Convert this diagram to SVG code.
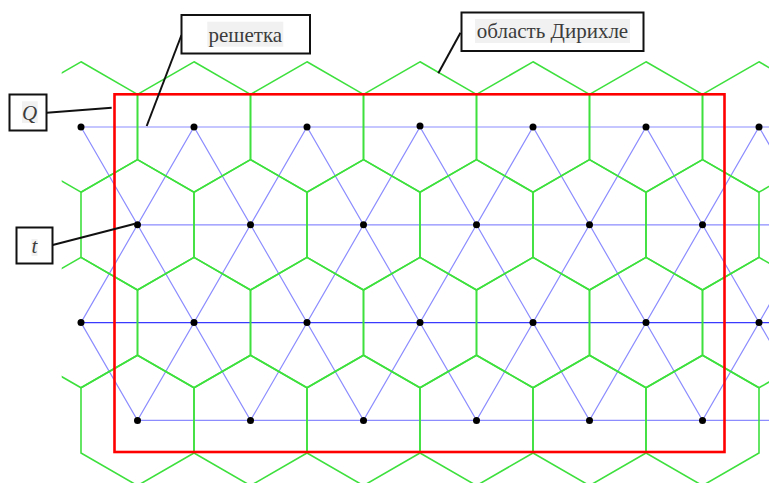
<svg xmlns="http://www.w3.org/2000/svg" xmlns:xlink="http://www.w3.org/1999/xlink" width="769" height="483" viewBox="0 0 769 483">
<style>
.hex{fill:none;stroke:#3ee03e;stroke-width:1.6}
.lat{fill:none;stroke:#8c8cff;stroke-width:1.2}
.latd{fill:none;stroke:#3a3aff;stroke-width:1.2}
.dot{fill:#000}
.box{fill:#fff;stroke:#111;stroke-width:2}
.bg{fill:#f1f1f1}
.lbl{font-family:"Liberation Serif","Times New Roman",serif;font-size:21px;fill:#3c3c3c;text-anchor:middle}
.it{font-style:italic}
.lead{stroke:#111;stroke-width:2;fill:none}
</style>
<defs>
<polygon id="hx" class="hex" points="0,-65.2 56.5,-32.6 56.5,32.6 0,65.2 -56.5,32.6 -56.5,-32.6"/>
<clipPath id="clip"><rect x="61.7" y="0" width="720" height="483"/></clipPath>
</defs>
<rect width="769" height="483" fill="#fff"/>
<g id="lattice">
<path class="lat" d="M81,127 H769 M137.5,224.8 H769 M137.5,420.4 H769"/>
<path class="latd" d="M81,322.6 H769"/>
<path class="lat" d="M81,127 L137.5,224.8 L194,127 L250.5,224.8 L307,127 L363.5,224.8 L420,127 L476.5,224.8 L533,127 L589.5,224.8 L646,127 L702.5,224.8 L759,127 L815.5,224.8"/>
<path class="lat" d="M81,322.6 L137.5,224.8 L194,322.6 L250.5,224.8 L307,322.6 L363.5,224.8 L420,322.6 L476.5,224.8 L533,322.6 L589.5,224.8 L646,322.6 L702.5,224.8 L759,322.6 L815.5,224.8"/>
<path class="lat" d="M81,322.6 L137.5,420.4 L194,322.6 L250.5,420.4 L307,322.6 L363.5,420.4 L420,322.6 L476.5,420.4 L533,322.6 L589.5,420.4 L646,322.6 L702.5,420.4 L759,322.6 L815.5,420.4"/>
</g>
<g id="dirichlet" clip-path="url(#clip)">
<use xlink:href="#hx" x="81" y="127"/><use xlink:href="#hx" x="194" y="127"/><use xlink:href="#hx" x="307" y="127"/><use xlink:href="#hx" x="420" y="127"/><use xlink:href="#hx" x="533" y="127"/><use xlink:href="#hx" x="646" y="127"/><use xlink:href="#hx" x="759" y="127"/>
<use xlink:href="#hx" x="137.5" y="224.8"/><use xlink:href="#hx" x="250.5" y="224.8"/><use xlink:href="#hx" x="363.5" y="224.8"/><use xlink:href="#hx" x="476.5" y="224.8"/><use xlink:href="#hx" x="589.5" y="224.8"/><use xlink:href="#hx" x="702.5" y="224.8"/>
<use xlink:href="#hx" x="81" y="322.6"/><use xlink:href="#hx" x="194" y="322.6"/><use xlink:href="#hx" x="307" y="322.6"/><use xlink:href="#hx" x="420" y="322.6"/><use xlink:href="#hx" x="533" y="322.6"/><use xlink:href="#hx" x="646" y="322.6"/><use xlink:href="#hx" x="759" y="322.6"/>
<use xlink:href="#hx" x="137.5" y="420.4"/><use xlink:href="#hx" x="250.5" y="420.4"/><use xlink:href="#hx" x="363.5" y="420.4"/><use xlink:href="#hx" x="476.5" y="420.4"/><use xlink:href="#hx" x="589.5" y="420.4"/><use xlink:href="#hx" x="702.5" y="420.4"/>
</g>
<rect id="region-Q" x="114.5" y="94.3" width="610" height="357.7" fill="none" stroke="#ff0000" stroke-width="2.6"/>
<g id="points">
<circle class="dot" cx="81" cy="127" r="3.5"/><circle class="dot" cx="194" cy="127" r="3.5"/><circle class="dot" cx="307" cy="127" r="3.5"/><circle class="dot" cx="420" cy="126" r="3.5"/><circle class="dot" cx="533" cy="127" r="3.5"/><circle class="dot" cx="646" cy="127" r="3.5"/><circle class="dot" cx="759" cy="127" r="3.5"/>
<circle class="dot" cx="137.5" cy="224.8" r="3.5"/><circle class="dot" cx="250.5" cy="224.8" r="3.5"/><circle class="dot" cx="363.5" cy="224.8" r="3.5"/><circle class="dot" cx="476.5" cy="224.8" r="3.5"/><circle class="dot" cx="589.5" cy="224.8" r="3.5"/><circle class="dot" cx="702.5" cy="224.8" r="3.5"/>
<circle class="dot" cx="81" cy="322.6" r="3.5"/><circle class="dot" cx="194" cy="322.6" r="3.5"/><circle class="dot" cx="307" cy="322.6" r="3.5"/><circle class="dot" cx="420" cy="322.6" r="3.5"/><circle class="dot" cx="533" cy="322.6" r="3.5"/><circle class="dot" cx="646" cy="322.6" r="3.5"/><circle class="dot" cx="759" cy="322.6" r="3.5"/>
<circle class="dot" cx="137.5" cy="420.4" r="3.5"/><circle class="dot" cx="250.5" cy="420.4" r="3.5"/><circle class="dot" cx="363.5" cy="420.4" r="3.5"/><circle class="dot" cx="476.5" cy="420.4" r="3.5"/><circle class="dot" cx="589.5" cy="420.4" r="3.5"/><circle class="dot" cx="702.5" cy="420.4" r="3.5"/>
</g>
<g id="connectors">
<line class="lead" x1="46.7" y1="112.7" x2="111.7" y2="107.7"/>
<line class="lead" x1="181.5" y1="35" x2="146.7" y2="126"/>
<line class="lead" x1="460.5" y1="32.7" x2="438.3" y2="73.3"/>
<line class="lead" x1="52.7" y1="245" x2="135" y2="223.8"/>
</g>
<g id="label-reshetka">
<rect class="box" x="181.5" y="15" width="128.5" height="38.5"/>
<rect class="bg" x="207.3" y="21.7" width="76" height="25"/>
<text class="lbl" x="245.3" y="41.5">решетка</text>
</g>
<g id="label-dirichlet">
<rect class="box" x="461.5" y="12.5" width="182" height="38.5"/>
<rect class="bg" x="475" y="19" width="155" height="24"/>
<text class="lbl" x="552.5" y="38">область Дирихле</text>
</g>
<g id="label-Q">
<rect class="box" x="9.5" y="94.5" width="37" height="36"/>
<rect class="bg" x="22" y="101.3" width="15.7" height="21.7"/>
<text class="lbl it" x="29.5" y="119.5">Q</text>
</g>
<g id="label-t">
<rect class="box" x="16.5" y="227.5" width="36" height="36"/>
<rect class="bg" x="31.5" y="239" width="6" height="17"/>
<text class="lbl it" x="34.5" y="252.5">t</text>
</g>
</svg>
